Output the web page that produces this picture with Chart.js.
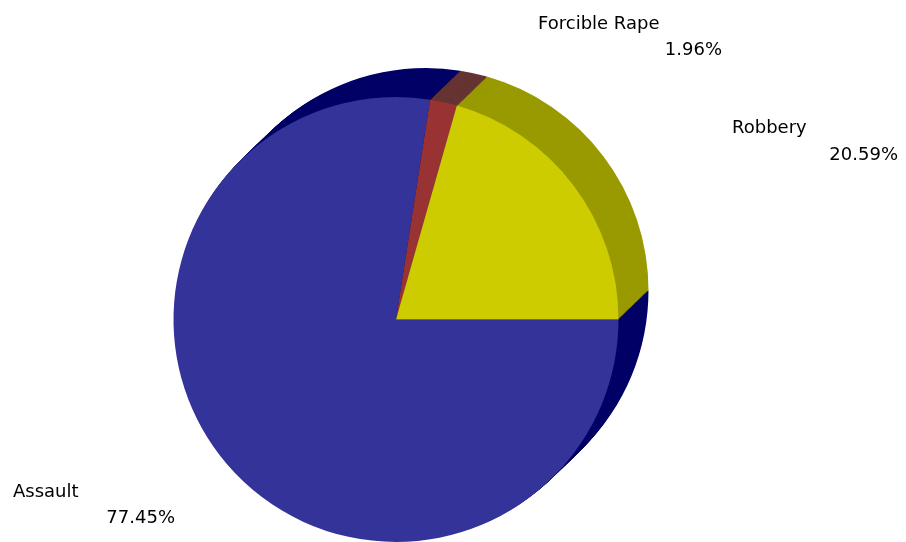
<!DOCTYPE html>
<html>
<head>
<meta charset="utf-8">
<script src="https://cdn.jsdelivr.net/npm/chart.js@4/dist/chart.umd.min.js"></script>
<style>
    html, body { margin: 0; padding: 0; background: #fff; }
    #wrap { width: 906px; height: 542px; }
</style>
</head>
<body>
<div id="wrap"><canvas id="pie"></canvas></div>
<script>
// Crime share, clockwise from 3 o'clock
const categories = ['Assault', 'Forcible Rape', 'Robbery'];
const shares = [77.45, 1.96, 20.59];
const faceColors = ['#333399', '#993333', '#cccc00'];
const sideColors = ['#000066', '#663333', '#999900'];

// Where each label goes: name left-aligned, percent right-aligned below it
const labelLayout = [
    { nameX: 13, nameY: 497, pctX: 175, pctY: 523 },
    { nameX: 538, nameY: 29, pctX: 722, pctY: 55 },
    { nameX: 732, nameY: 133, pctX: 898, pctY: 160 }
];

// Depth of the extruded side
const depth = { dx: 30, dy: -29, steps: 30 };

const extrudePlugin = {
    id: 'extrude',
    beforeDatasetsDraw(chart) {
        const ctx = chart.ctx;
        const arcs = chart.getDatasetMeta(0).data;
        ctx.save();
        // draw from back to front so the nearest layer wins
        for (let s = depth.steps; s >= 1; s--) {
            const ox = depth.dx * s / depth.steps;
            const oy = depth.dy * s / depth.steps;
            arcs.forEach((arc, i) => {
                const p = arc.getProps(['x', 'y', 'startAngle', 'endAngle', 'outerRadius'], true);
                ctx.beginPath();
                ctx.moveTo(p.x + ox, p.y + oy);
                ctx.arc(p.x + ox, p.y + oy, p.outerRadius, p.startAngle, p.endAngle);
                ctx.closePath();
                ctx.fillStyle = sideColors[i];
                ctx.fill();
            });
        }
        ctx.restore();
    },
    afterDatasetsDraw(chart) {
        const ctx = chart.ctx;
        ctx.save();
        ctx.font = '18px "DejaVu Sans"';
        ctx.fillStyle = '#000';
        ctx.textBaseline = 'alphabetic';
        categories.forEach((name, i) => {
            const l = labelLayout[i];
            ctx.textAlign = 'left';
            ctx.fillText(name, l.nameX, l.nameY);
            ctx.textAlign = 'right';
            ctx.fillText(shares[i].toFixed(2) + '%', l.pctX, l.pctY);
        });
        ctx.restore();
    }
};

new Chart(document.getElementById('pie'), {
    type: 'pie',
    data: {
        labels: categories,
        datasets: [{
            data: shares,
            backgroundColor: faceColors,
            borderWidth: 0
        }]
    },
    options: {
        responsive: true,
        maintainAspectRatio: false,
        animation: false,
        rotation: 90,
        layout: {
            padding: { left: 173, right: 287, top: 97, bottom: 0 }
        },
        plugins: {
            legend: { display: false },
            tooltip: { enabled: false }
        }
    },
    plugins: [extrudePlugin]
});
</script>
</body>
</html>
